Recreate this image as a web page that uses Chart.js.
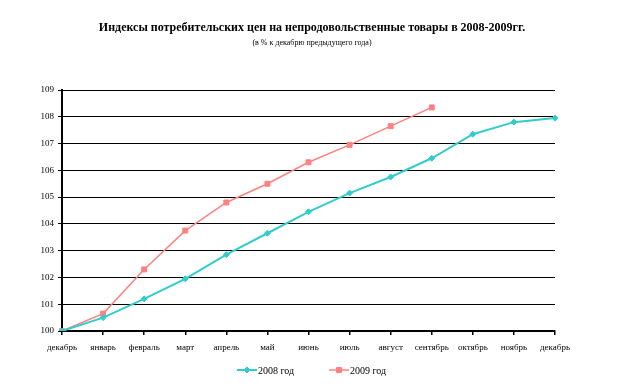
<!DOCTYPE html>
<html>
<head>
<meta charset="utf-8">
<script src="https://cdn.jsdelivr.net/npm/chart.js@4/dist/chart.umd.min.js"></script>
<style>
  body { margin: 0; background: #fff; }
  #wrap { width: 621px; height: 386px; }
</style>
</head>
<body>
<div id="wrap"><canvas id="cpi" width="621" height="386"></canvas></div>
<script>
const months = ['декабрь', 'январь', 'февраль', 'март', 'апрель', 'май', 'июнь',
  'июль', 'август', 'сентябрь', 'октябрь', 'ноябрь', 'декабрь'];
const y2008 = [100, 100.5, 101.2, 101.95, 102.85, 103.65, 104.45, 105.15, 105.75, 106.45, 107.35, 107.8, 107.95];
const y2009 = [100, 100.65, 102.3, 103.75, 104.8, 105.5, 106.3, 106.95, 107.65, 108.35];
const seriesNames = ['2008 год', '2009 год'];
const yTicks = [100, 101, 102, 103, 104, 105, 106, 107, 108, 109];

const serif = '"Liberation Serif", "Times New Roman", serif';

// title + line/marker legend, drawn like the original office chart
const decor = {
  id: 'decor',
  afterDraw(chart) {
    const ctx = chart.ctx;
    ctx.save();
    ctx.fillStyle = '#000';
    ctx.textAlign = 'center';
    ctx.textBaseline = 'middle';
    ctx.font = 'bold 12px ' + serif;
    ctx.fillText('Индексы потребительских цен на непродовольственные товары в 2008-2009гг.', 312, 28);
    ctx.font = '8px ' + serif;
    ctx.fillText('(в % к декабрю предыдущего года)', 312, 43);

    const items = [{ x: 237, ds: chart.data.datasets[0] }, { x: 329, ds: chart.data.datasets[1] }];
    const ly = 370;
    items.forEach(it => {
      ctx.strokeStyle = it.ds.borderColor;
      ctx.lineWidth = it.ds.borderWidth;
      ctx.beginPath();
      ctx.moveTo(it.x, ly);
      ctx.lineTo(it.x + 20, ly);
      ctx.stroke();
      ctx.fillStyle = it.ds.backgroundColor;
      ctx.lineWidth = 1;
      Chart.helpers.drawPoint(ctx, {
        pointStyle: it.ds.pointStyle, radius: it.ds.pointRadius, borderWidth: 1
      }, it.x + 10, ly);
      ctx.fillStyle = '#000';
      ctx.textAlign = 'left';
      ctx.font = '10px ' + serif;
      ctx.fillText(it.ds.label, it.x + 21, ly + 1);
    });
    ctx.restore();
  }
};

new Chart(document.getElementById('cpi'), {
  type: 'line',
  data: {
    labels: months,
    datasets: [
      {
        label: seriesNames[0],
        data: y2008,
        borderColor: '#33cccc',
        backgroundColor: '#33cccc',
        borderWidth: 2,
        pointStyle: 'rectRot',
        pointRadius: 3,
        pointBorderWidth: 1,
        tension: 0
      },
      {
        label: seriesNames[1],
        data: y2009,
        borderColor: '#ff8080',
        backgroundColor: '#ff8080',
        borderWidth: 1.5,
        pointStyle: 'rect',
        pointRadius: 3.5,
        pointBorderWidth: 1,
        tension: 0
      }
    ]
  },
  options: {
    responsive: false,
    animation: false,
    layout: { padding: { top: 90, right: 66, bottom: 0, left: 0 } },
    plugins: {
      legend: { display: false },
      title: { display: false },
      tooltip: { enabled: false }
    },
    scales: {
      x: {
        offset: false,
        afterFit(s) { s.height = 55; },
        border: { color: '#000', width: 2 },
        grid: { drawOnChartArea: false, drawTicks: true, tickLength: 4, color: '#000', lineWidth: 1.5 },
        ticks: {
          color: '#000', font: { family: serif, size: 9 },
          maxRotation: 0, autoSkip: false, padding: 7
        }
      },
      y: {
        min: 100,
        max: 109,
        afterFit(s) { s.width = 62; },
        afterBuildTicks(s) { s.ticks = yTicks.map(v => ({ value: v })); },
        border: { color: '#000', width: 2 },
        grid: { color: '#000', lineWidth: 1, tickLength: 4 },
        ticks: {
          color: '#000', font: { family: serif, size: 9 }, padding: 4
        }
      }
    }
  },
  plugins: [decor]
});
</script>
</body>
</html>
